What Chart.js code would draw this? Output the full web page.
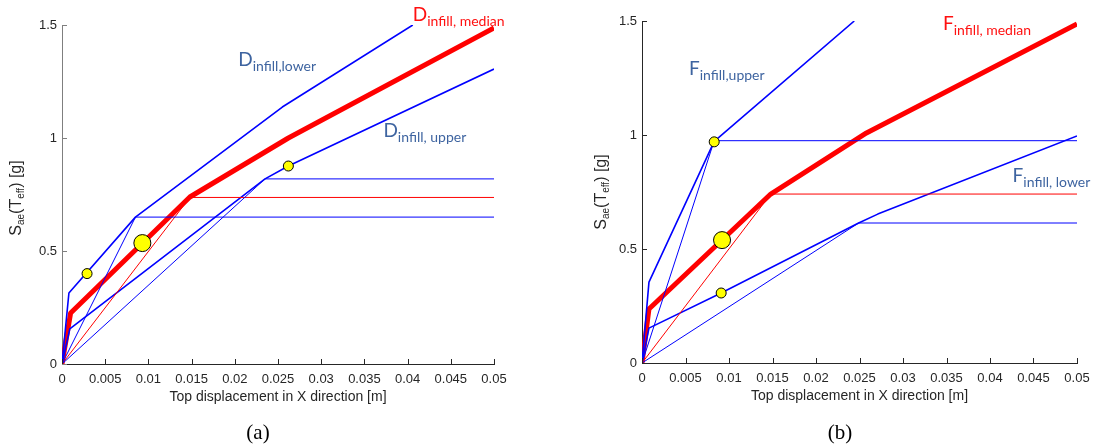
<!DOCTYPE html>
<html><head><meta charset="utf-8">
<script src="https://cdn.jsdelivr.net/npm/chart.js@4.4.1/dist/chart.umd.min.js"></script>
<style>
html,body{margin:0;padding:0;background:#fff;width:1099px;height:447px;overflow:hidden;}
.wrap{position:absolute;top:0;height:447px;}
#wa{left:0;width:549px;}
#wb{left:549px;width:550px;}
.cap{position:absolute;font-family:"Liberation Serif","Times New Roman",serif;font-size:21px;line-height:24px;color:#000;transform:translateX(-50%);top:420px;}
</style></head><body>
<div class="wrap" id="wa"><canvas id="ca" width="549" height="447"></canvas></div>
<div class="wrap" id="wb"><canvas id="cb" width="550" height="447"></canvas></div>
<div class="cap" style="left:258px">(a)</div>
<div class="cap" style="left:840px">(b)</div>
<script>
// ---------- ticks ----------
const xTickValues = [0,0.005,0.01,0.015,0.02,0.025,0.03,0.035,0.04,0.045,0.05];
const xTickLabels = ['0','0.005','0.01','0.015','0.02','0.025','0.03','0.035','0.04','0.045','0.05'];
const yTickValues = [0,0.5,1,1.5];
const yTickLabels = ['0','0.5','1','1.5'];
const xTitle = 'Top displacement in X direction [m]';

// ---------- panel (a) ----------
const aLowerX = [0, 0.0008, 0.0085, 0.0255, 0.0406];
const aLowerY = [0, 0.314, 0.65, 1.137, 1.5];
const aLowerBiX = [0, 0.0085, 0.05];
const aLowerBiY = [0, 0.65, 0.65];
const aMedianX = [0, 0.001, 0.0148, 0.0262, 0.05];
const aMedianY = [0, 0.226, 0.739, 1.0, 1.487];
const aMedianBiX = [0, 0.0148, 0.05];
const aMedianBiY = [0, 0.737, 0.737];
const aUpperX = [0, 0.0009, 0.0235, 0.0262, 0.05];
const aUpperY = [0, 0.155, 0.819, 0.876, 1.305];
const aUpperBiX = [0, 0.0235, 0.05];
const aUpperBiY = [0, 0.819, 0.819];
const aSmallX = [0.0029, 0.0262];
const aSmallY = [0.40, 0.876];
const aLargeX = [0.0093];
const aLargeY = [0.535];
const aLabelMain = ['D', 'D', 'D'];
const aLabelSub = ['infill,lower', 'infill, median', 'infill, upper'];
const aLabelX = [0.0204, 0.0406, 0.0372];
const aLabelY = [1.319, 1.518, 1.004];

// ---------- panel (b) ----------
const bUpperX = [0, 0.0008, 0.0083, 0.0244];
const bUpperY = [0, 0.355, 0.972, 1.5];
const bUpperBiX = [0, 0.0083, 0.05];
const bUpperBiY = [0, 0.975, 0.975];
const bMedianX = [0, 0.0008, 0.0148, 0.0258, 0.05];
const bMedianY = [0, 0.237, 0.741, 1.009, 1.487];
const bMedianBiX = [0, 0.0148, 0.05];
const bMedianBiY = [0, 0.741, 0.741];
const bLowerX = [0, 0.0008, 0.0091, 0.0249, 0.0271, 0.05];
const bLowerY = [0, 0.153, 0.307, 0.614, 0.653, 0.996];
const bLowerBiX = [0, 0.0249, 0.05];
const bLowerBiY = [0, 0.614, 0.614];
const bSmallX = [0.0083, 0.0091];
const bSmallY = [0.97, 0.307];
const bLargeX = [0.0092];
const bLargeY = [0.539];
const bLabelMain = ['F', 'F', 'F'];
const bLabelSub = ['infill,upper', 'infill, median', 'infill, lower'];
const bLabelX = [0.0054, 0.0346, 0.0426];
const bLabelY = [1.263, 1.461, 0.794];

// ---------- helpers ----------
const BLUE = '#0000ff', RED = '#ff0000', LBLUE = '#3e64a0', LRED = '#ff1010';
function pts(xs, ys){ return xs.map((x,i)=>({x:x, y:ys[i]})); }
function line(xs, ys, color, width, order){
  return {data: pts(xs,ys), showLine:true, borderColor:color, backgroundColor:color,
          borderWidth:width, pointRadius:0, pointHoverRadius:0, order:order,
          borderJoinStyle:'round', borderCapStyle:'butt', tension:0};
}
function marks(xs, ys, r){
  return {data: pts(xs,ys), showLine:false, pointRadius:r, pointHoverRadius:r,
          pointBackgroundColor:'#ffff00', pointBorderColor:'#000', pointBorderWidth:1, order:0};
}
function drawRich(ctx, parts, x, y, align){
  let w = 0;
  parts.forEach(p=>{ ctx.font = p.f; p.w = ctx.measureText(p.t).width; w += p.w; });
  let cx = align === 'center' ? x - w/2 : x;
  parts.forEach(p=>{ ctx.font = p.f; ctx.fillStyle = p.c; ctx.fillText(p.t, cx, y + (p.dy||0)); cx += p.w; });
}

const decor = {
  id:'decor',
  afterDraw(chart, args, o){
    const ctx = chart.ctx, xs = chart.scales.x, ys = chart.scales.y, ca = chart.chartArea;
    ctx.save();
    ctx.lineWidth = 1;
    ctx.strokeStyle = o.xAxisColor;
    xTickValues.forEach(v=>{
      const p = Math.round(xs.getPixelForValue(v)) + 0.5;
      ctx.beginPath(); ctx.moveTo(p, ca.bottom); ctx.lineTo(p, ca.bottom - 5); ctx.stroke();
    });
    ctx.strokeStyle = o.yAxisColor;
    yTickValues.forEach(v=>{
      const p = Math.round(ys.getPixelForValue(v)) + 0.5;
      ctx.beginPath(); ctx.moveTo(ca.left, p); ctx.lineTo(ca.left + 5, p); ctx.stroke();
    });
    ctx.restore();
    // y axis title with subscripts
    ctx.save();
    ctx.translate(o.yTitleX, o.yTitleY);
    ctx.rotate(-Math.PI/2);
    ctx.textBaseline = 'alphabetic';
    const F = '16px "Liberation Sans", Arial, sans-serif', S = '10px "Liberation Sans", Arial, sans-serif', C = '#262626';
    drawRich(ctx, [
      {t:'S', f:F, c:C}, {t:'ae', f:S, c:C, dy:3}, {t:'(T', f:F, c:C},
      {t:'eff', f:S, c:C, dy:3}, {t:') [g]', f:F, c:C}
    ], 0, 0, 'center');
    ctx.restore();
    // curve labels
    ctx.save();
    ctx.textBaseline = 'alphabetic';
    o.labels.main.forEach((m,i)=>{
      const px = xs.getPixelForValue(o.labels.x[i]);
      const py = ys.getPixelForValue(o.labels.y[i]);
      const col = o.labels.colors[i];
      drawRich(ctx, [
        {t:m, f:'19px Lato, "Open Sans", sans-serif', c:col},
        {t:o.labels.sub[i], f:'14px Lato, "Open Sans", sans-serif', c:col, dy:5}
      ], px, py, 'left');
    });
    ctx.restore();
  }
};

function makeChart(id, datasets, cfg){
  return new Chart(document.getElementById(id), {
    type:'scatter',
    data:{datasets:datasets},
    plugins:[decor],
    options:{
      responsive:false, animation:false, devicePixelRatio:1,
      layout:{padding:{left:0, top:cfg.top, right:cfg.right, bottom:cfg.bottom}},
      plugins:{legend:{display:false}, tooltip:{enabled:false}, decor:cfg.decor},
      scales:{
        x:{type:'linear', min:0, max:0.05,
           afterBuildTicks:s=>{ s.ticks = xTickValues.map(v=>({value:v})); },
           afterFit:s=>{ s.height = 43; },
           grid:{display:false, drawTicks:false},
           border:{display:true, color:cfg.decor.xAxisColor, width:1},
           ticks:{padding:8, color:'#262626', font:{family:'"Liberation Sans", Arial, sans-serif', size:13},
                  maxRotation:0, autoSkip:false,
                  callback:(v,i)=>xTickLabels[i]},
           title:{display:true, text:xTitle, color:'#262626', padding:{top:0,bottom:1},
                  font:{family:'"Liberation Sans", Arial, sans-serif', size:14}}
        },
        y:{type:'linear', min:0, max:1.5,
           afterBuildTicks:s=>{ s.ticks = yTickValues.map(v=>({value:v})); },
           afterFit:s=>{ s.width = cfg.yWidth; },
           grid:{display:false, drawTicks:false},
           border:{display:true, color:cfg.decor.yAxisColor, width:1},
           ticks:{padding:5, color:'#262626', font:{family:'"Liberation Sans", Arial, sans-serif', size:13},
                  autoSkip:false, callback:(v,i)=>yTickLabels[i]}
        }
      }
    }
  });
}

makeChart('ca', [
  marks(aSmallX, aSmallY, 5),
  marks(aLargeX, aLargeY, 8.5),
  line(aLowerBiX, aLowerBiY, BLUE, 1, 1),
  line(aUpperBiX, aUpperBiY, BLUE, 1, 1),
  line(aMedianBiX, aMedianBiY, RED, 1, 1),
  line(aLowerX, aLowerY, BLUE, 1.6, 2),
  line(aUpperX, aUpperY, BLUE, 1.6, 2),
  line(aMedianX, aMedianY, RED, 5, 3)
], {top:25, right:55, bottom:40, yWidth:62,
    decor:{xAxisColor:'#262626', yAxisColor:'#7f7f7f', yTitleX:21, yTitleY:198,
           labels:{main:aLabelMain, sub:aLabelSub, x:aLabelX, y:aLabelY, colors:[LBLUE, LRED, LBLUE]}}});

makeChart('cb', [
  marks(bSmallX, bSmallY, 5),
  marks(bLargeX, bLargeY, 8.5),
  line(bUpperBiX, bUpperBiY, BLUE, 1, 1),
  line(bLowerBiX, bLowerBiY, BLUE, 1, 1),
  line(bMedianBiX, bMedianBiY, RED, 1, 1),
  line(bUpperX, bUpperY, BLUE, 1.6, 2),
  line(bLowerX, bLowerY, BLUE, 1.6, 2),
  line(bMedianX, bMedianY, RED, 5, 3)
], {top:21, right:22, bottom:41, yWidth:93,
    decor:{xAxisColor:'#262626', yAxisColor:'#262626', yTitleX:57, yTitleY:192,
           labels:{main:bLabelMain, sub:bLabelSub, x:bLabelX, y:bLabelY, colors:[LBLUE, LRED, LBLUE]}}});
</script>
</body></html>
